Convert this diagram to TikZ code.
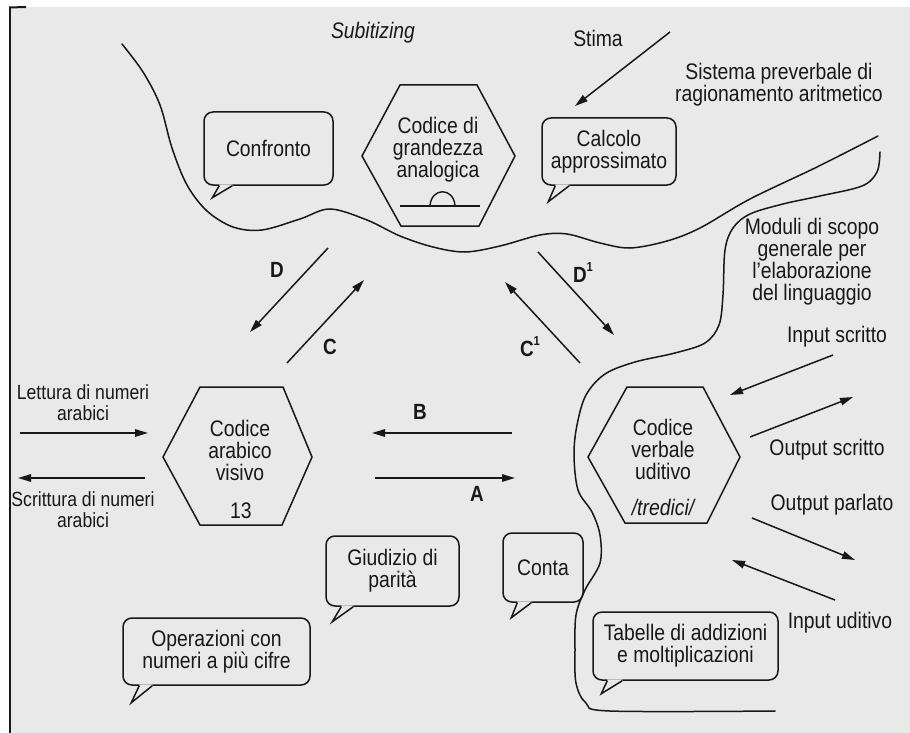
\documentclass[tikz,border=0pt]{standalone}
\usepackage{fontspec}
\setmainfont{Liberation Sans}[FakeStretch=0.86]
\usetikzlibrary{arrows.meta,calc}
\definecolor{paper}{RGB}{233,233,233}
\definecolor{ink}{RGB}{24,24,24}
% tail of a speech bubble: node, left base, right base, tip (offsets from south west)
\newcommand\bubbletail[4]{%
  \fill[paper] ($(#1.south west)+(#2,-1.4)$) -- ($(#1.south west)+(#2,0.9)$)
     -- ($(#1.south west)+#4$) -- ($(#1.south west)+(#3,0.9)$) -- ($(#1.south west)+(#3,-1.4)$) -- cycle;
  \draw[ink,line width=1.5pt,line join=miter]
     ($(#1.south west)+(#2,0)$) -- ($(#1.south west)+#4$) -- ($(#1.south west)+(#3,0)$);}
\begin{document}
\begin{tikzpicture}[x=1pt,y=-1pt,
  every node/.style={text=ink,inner sep=0pt,font=\fontsize{22.5}{22}\selectfont},
  lbl/.style={align=center},
  small/.style={align=center,font=\fontsize{20.5}{21}\selectfont},
  letter/.style={font=\fontsize{22}{22}\selectfont\bfseries},
  curve/.style={draw=ink,line width=1.5pt,line cap=round},
  hexa/.style={draw=ink,line width=1.5pt,line join=miter},
  arr/.style={draw=ink,line width=1.5pt,-{Triangle[length=13pt,width=7.5pt]}},
  bubble/.style={draw=ink,line width=1.5pt,rounded corners=9pt,align=center},
]
\useasboundingbox (0,0) rectangle (910,733);
\fill[white] (0,0) rectangle (910,733);
\fill[paper] (10,7) rectangle (910,733);
\draw[ink,line width=2pt] (10,7) -- (10,733);
\draw[ink,line width=2pt] (9,7.5) -- (26,7);

% boundary of the preverbal system
\draw[curve] plot[smooth,tension=0.55] coordinates {
  (122,44) (143,72) (160,105) (172,148) (187,185) (207,211) (233,227) (262,230)
  (300,219) (330,209) (367,220) (400,236) (433,247) (465,252) (500,246) (540,235)
  (567,234) (600,243) (630,248) (667,241) (700,228) (750,199) (817,167) (878,136)};
% boundary of the general language modules
\draw[curve] plot[smooth,tension=0.55] coordinates {
  (880,152) (877,172) (862,186) (820,196) (783,204) (750,214) (733,228) (725,250)
  (723,295) (719,325) (705,343) (675,353) (635,362) (605,374) (586,395) (577,425)
  (574,455) (578,490) (592,512) (600,535) (600,563) (585,590) (576,615) (575,650)
  (576,683) (586,703) (610,711) (775,711)};

% hexagonal codes
\draw[hexa] (362,156) -- (400,85) -- (477,85) -- (515,156) -- (479,226) -- (401,226) -- cycle;
\draw[hexa] (163,457) -- (200,387) -- (283,387) -- (312,457) -- (282,525) -- (200,525) -- cycle;
\draw[hexa] (588,457) -- (627,387) -- (703,387) -- (740,457) -- (707,523) -- (625,523) -- cycle;
\node[lbl] (analog) at (438,150) {Codice di\\grandezza\\analogica};
\draw[ink,line width=1.4pt] (400,206) -- (480,206);
\draw[ink,line width=1.4pt] (430,206) .. controls (431,187) and (454,187) .. (455,206);
\node[lbl] (arab) at (240,450) {Codice\\arabico\\visivo};
\node (arabn) at (241,511) {13};
\node[lbl] (verb) at (663,449) {Codice\\verbale\\uditivo};
\node (verbn) at (663,507) {\itshape/tredici/};

% speech bubbles
\node[bubble,minimum width=129pt,minimum height=73pt] (confr) at (268.5,148.5) {Confronto};
\bubbletail{confr}{16}{29}{(9,12)}
\node[bubble,minimum width=134pt,minimum height=67pt] (calc) at (609,151.5) {Calcolo\\approssimato};
\bubbletail{calc}{14}{28}{(7,16)}
\node[bubble,minimum width=133pt,minimum height=70pt] (parity) at (392.5,571) {Giudizio di\\parità};
\bubbletail{parity}{16}{28}{(7,15)}
\node[bubble,minimum width=80pt,minimum height=69pt] (conta) at (543,567.5) {Conta};
\bubbletail{conta}{15}{29}{(9,15)}
\node[bubble,minimum width=187pt,minimum height=67pt] (multi) at (216.5,651.5) {Operazioni con\\numeri a più cifre};
\bubbletail{multi}{17}{30}{(9,17)}
\node[bubble,minimum width=185pt,minimum height=68pt] (tables) at (685.5,646) {Tabelle di addizioni\\e moltiplicazioni};
\bubbletail{tables}{15}{30}{(9,13)}

% free labels
\node (subit) at (373,33) {\itshape Subitizing};
\node (stima) at (598,38) {Stima};
\node[lbl] (preverb) at (779,85) {Sistema preverbale di\\ragionamento aritmetico};
\node[lbl] (moduli) at (812,262) {Moduli di scopo\\generale per\\l'elaborazione\\del linguaggio};
\node (inscr) at (837,337) {Input scritto};
\node (outscr) at (827,450) {Output scritto};
\node (outparl) at (832,505) {Output parlato};
\node (inudit) at (840,623) {Input uditivo};
\node[small] (lettura) at (83,403) {Lettura di numeri\\arabici};
\node[small] (scrittura) at (83,510) {Scrittura di numeri\\arabici};

% route letters
\node[letter] (lD) at (277,270) {D};
\node[letter] (lC) at (330,347) {C};
\node[letter] (lD1) at (583,273) {D\raisebox{0.5em}{\fontsize{13}{13}\selectfont 1}};
\node[letter] (lC1) at (530,347) {C\raisebox{0.5em}{\fontsize{13}{13}\selectfont 1}};
\node[letter] (lB) at (420,412) {B};
\node[letter] (lA) at (477,494) {A};

% arrow end points
\coordinate (stimaS) at (670,32);   \coordinate (stimaE) at (575,106);
\coordinate (dS) at (328,248);      \coordinate (dE) at (250,332);
\coordinate (cS) at (287,363);      \coordinate (cE) at (364,280);
\coordinate (d1S) at (538,252);     \coordinate (d1E) at (614,335);
\coordinate (c1S) at (580,363);     \coordinate (c1E) at (505,282);
\coordinate (bS) at (512,433);      \coordinate (bE) at (372,433);
\coordinate (aS) at (375,478);      \coordinate (aE) at (515,478);
\coordinate (letS) at (20,433);     \coordinate (letE) at (148,433);
\coordinate (scrS) at (145,478);    \coordinate (scrE) at (18,478);
\coordinate (inscS) at (833,355);   \coordinate (inscE) at (730,395);
\coordinate (outsS) at (750,437);   \coordinate (outsE) at (853,397);
\coordinate (outpS) at (752,518);   \coordinate (outpE) at (855,560);
\coordinate (inudS) at (835,600);   \coordinate (inudE) at (732,560);

\draw[arr] (stimaS) -- (stimaE);
\draw[arr] (dS) -- (dE);
\draw[arr] (cS) -- (cE);
\draw[arr] (d1S) -- (d1E);
\draw[arr] (c1S) -- (c1E);
\draw[arr] (bS) -- (bE);
\draw[arr] (aS) -- (aE);
\draw[arr] (letS) -- (letE);
\draw[arr] (scrS) -- (scrE);
\draw[arr] (inscS) -- (inscE);
\draw[arr] (outsS) -- (outsE);
\draw[arr] (outpS) -- (outpE);
\draw[arr] (inudS) -- (inudE);
\end{tikzpicture}
\end{document}
